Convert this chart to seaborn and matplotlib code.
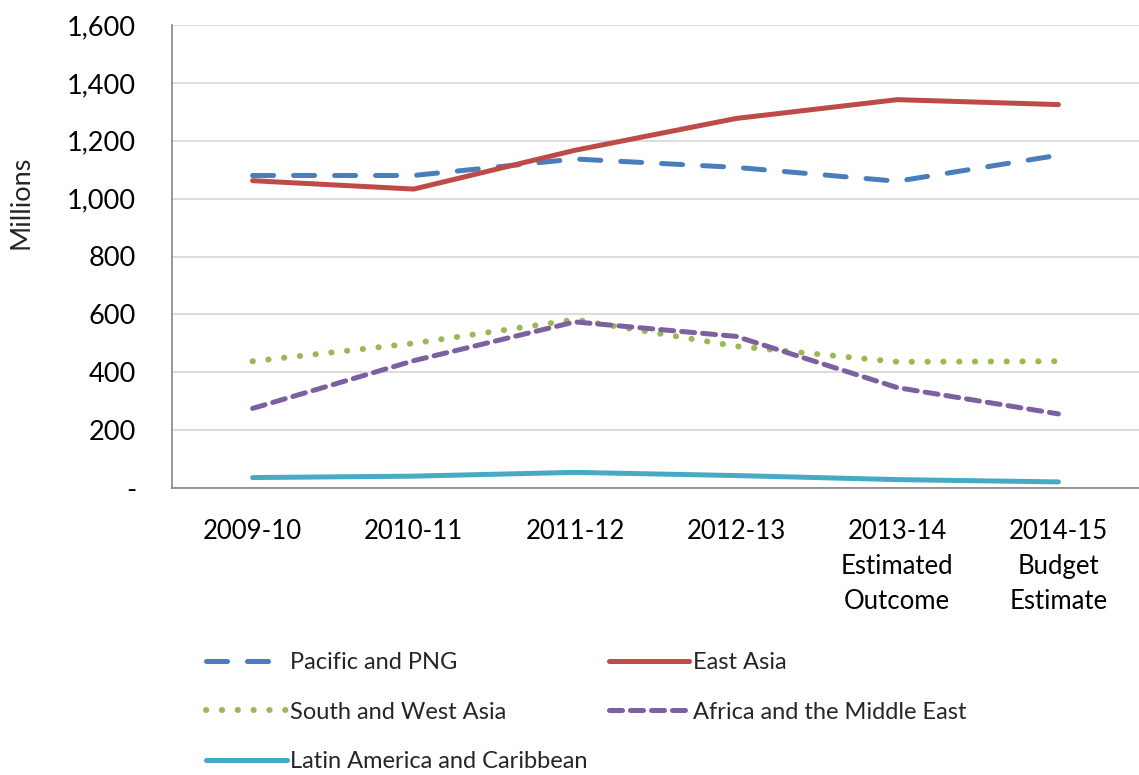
import matplotlib
matplotlib.use('Agg')
import matplotlib.pyplot as plt
import seaborn as sns
import pandas as pd

# Data (millions)
years = ['2009-10', '2010-11', '2011-12', '2012-13',
         '2013-14\nEstimated\nOutcome', '2014-15\nBudget\nEstimate']
pacific = [1080, 1080, 1137, 1108, 1060, 1150]
east_asia = [1062, 1033, 1167, 1277, 1342, 1325]
south_west_asia = [438, 500, 582, 490, 436, 438]
africa_me = [275, 440, 574, 524, 347, 256]
latin_america = [36, 41, 54, 43, 29, 21]

series_names = ['Pacific and PNG', 'East Asia', 'South and West Asia',
                'Africa and the Middle East', 'Latin America and Caribbean']
series_values = [pacific, east_asia, south_west_asia, africa_me, latin_america]
colors = ['#4a7ebb', '#be4b48', '#98b954', '#7d60a0', '#46aac5']
dashes = [(4.2, 4.0), None, (0.05, 2.6), (2.6, 1.6), None]
widths = [3.6, 3.6, 4.3, 3.6, 3.6]

sns.set_style('white')
plt.rcParams['font.family'] = ['Lato', 'DejaVu Sans']

fig = plt.figure(figsize=(11.39, 7.75), dpi=100)
ax = fig.add_axes([172 / 1139, (775 - 488) / 775, (1139 - 172) / 1139, (488 - 25) / 775])

handles = []
for name, vals, col, dsh, lw in zip(series_names, series_values, colors, dashes, widths):
    df = pd.DataFrame({'x': list(range(len(years))), 'y': vals})
    sns.lineplot(data=df, x='x', y='y', ax=ax, color=col, linewidth=lw, label=name)
    line = ax.get_lines()[-1]
    if dsh is not None:
        line.set_dashes(dsh)
        line.set_dash_capstyle('round')
    line.set_solid_capstyle('round')
    line.set_solid_joinstyle('round')
    handles.append(line)

ax.get_legend().remove()

ax.set_ylim(0, 1600)
ax.set_xlim(-0.5, -0.5 + 967 / 163)
ax.set_yticks(range(0, 1601, 200))
ax.set_yticklabels(['-' if v == 0 else f'{v:,}' for v in range(0, 1601, 200)])
ax.set_xticks(range(len(years)))
ax.set_xticklabels(years, linespacing=1.5)
ax.set_xticks([i - 0.5 for i in range(len(years) + 1)], minor=True)
ax.tick_params(axis='x', which='major', length=0, pad=22, labelsize=18.5, colors='#000000')
ax.tick_params(axis='x', which='minor', length=8, width=1, color='#868686', direction='out')
ax.tick_params(axis='y', length=8, width=1, color='#868686', direction='out', pad=18,
               labelsize=19.5, colors='#000000')
ax.tick_params(axis='y', color='#868686')

ax.yaxis.grid(True, color='#d9d9d9', linewidth=1.3)
ax.set_axisbelow(True)
for side in ['top', 'right']:
    ax.spines[side].set_visible(False)
for side in ['left', 'bottom']:
    ax.spines[side].set_color('#868686')
    ax.spines[side].set_linewidth(1.2)

ax.set_xlabel('')
ax.set_ylabel('Millions', fontsize=19.5)
ax.yaxis.set_label_coords(-0.143, 0.618)

# legend fills row by row: Pacific | East Asia, South/West | Africa, Latin
order = [0, 2, 4, 1, 3]
fig.legend(handles=[handles[i] for i in order], labels=[series_names[i] for i in order],
           ncol=2, loc='upper left',
           bbox_to_anchor=(185 / 1139, 1 - 631 / 775), frameon=False,
           fontsize=17, handlelength=3.4, columnspacing=0.9, labelspacing=1.2,
           handletextpad=0.15)

fig.savefig('out.png', dpi=100)
